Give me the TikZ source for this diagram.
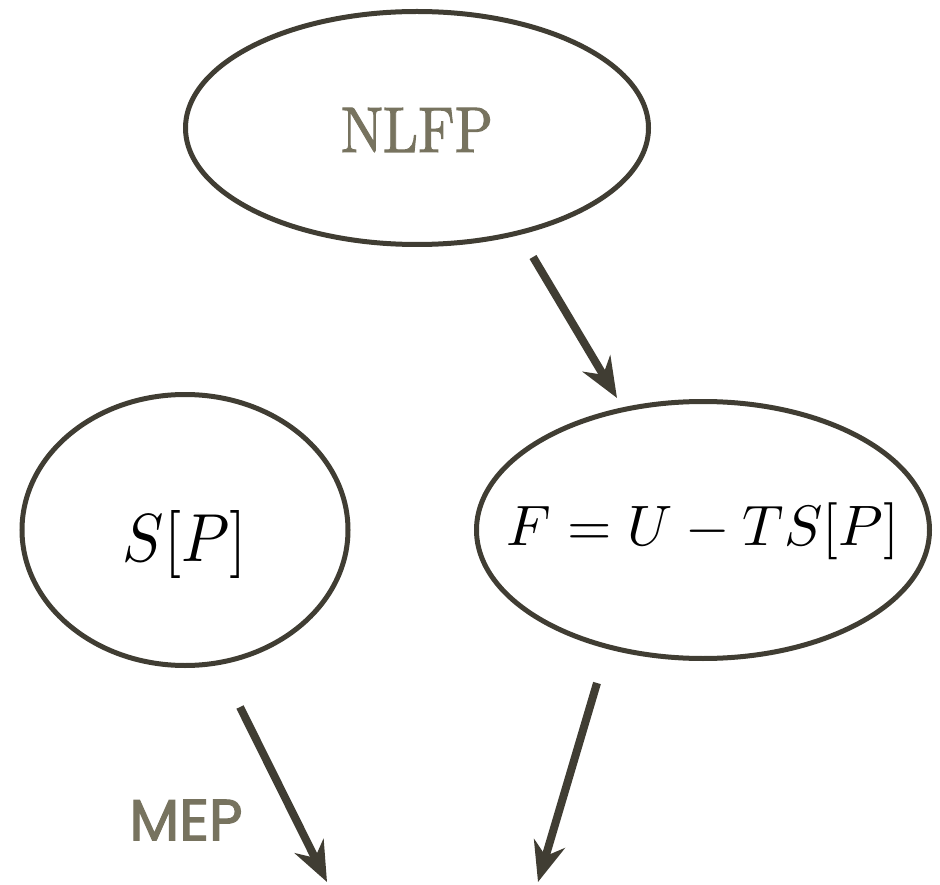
\documentclass[tikz,border=0pt]{standalone}
\usepackage{fontspec}
\usepackage{graphicx}
\usetikzlibrary{arrows.meta,shapes.geometric}
\newfontfamily\labelfont{Poppins}[FakeBold=2]
\newfontfamily\namefont{Latin Modern Roman}[FakeBold=1.6]
\definecolor{edgeline}{HTML}{403D33}
\definecolor{mutedtext}{HTML}{77735F}
% #1 width, #2 total height, #3 baseline drop below centre, #4 text
\newcommand{\fitlabel}[4]{%
  \makebox[0pt]{\raisebox{-#3}[0pt][0pt]{\resizebox*{#1}{#2}{#4}}}}

\begin{document}
\begin{tikzpicture}[
  x=1pt, y=-1pt,
  >={Stealth[length=40pt, width=32pt]},
  blob/.style={
    ellipse, draw=edgeline, line width=5pt, inner sep=0pt
  },
  flow/.style={->, draw=edgeline, line width=8pt},
  lbl/.style={font=\labelfont\fontsize{58}{64}\selectfont, text=mutedtext},
]
  \useasboundingbox (0,0) rectangle (940,885);

  \node[blob, minimum width=463pt, minimum height=233pt, text=mutedtext]
    (nlfp) at (417,128) {\fitlabel{152pt}{44pt}{24pt}{\namefont NLFP}};
  \node[blob, minimum width=326pt, minimum height=271pt]
    (entropy) at (185,530) {\fitlabel{124pt}{68pt}{31pt}{$S[P]$}};
  \node[blob, minimum width=453pt, minimum height=257pt]
    (freeenergy) at (703,530) {\fitlabel{392pt}{57pt}{15pt}{$F=U-TS[P]$}};

  \coordinate (a1s) at (533,257);
  \coordinate (a1e) at (617,398);
  \coordinate (a2s) at (240,707);
  \coordinate (a2e) at (327,882);
  \coordinate (a3s) at (597,683);
  \coordinate (a3e) at (538,882);

  \draw[flow] (a1s) -- (a1e);
  \draw[flow] (a2s) -- (a2e);
  \draw[flow] (a3s) -- (a3e);

  \node[lbl] (mep) at (186,820) {MEP};
\end{tikzpicture}
\end{document}
